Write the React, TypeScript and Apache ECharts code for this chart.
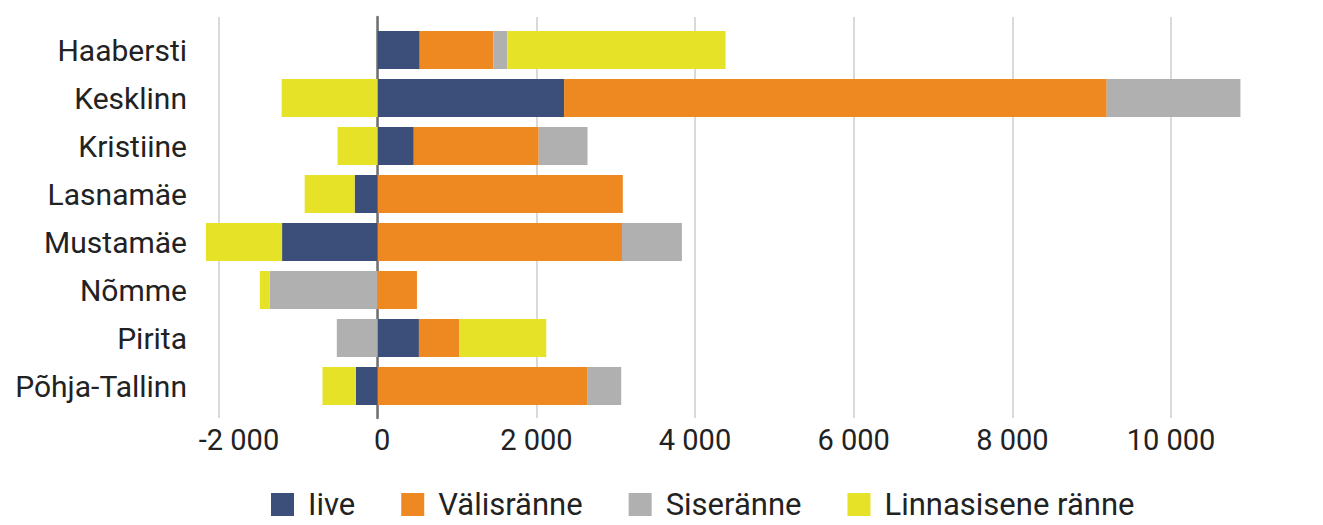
import React, { useEffect, useRef } from "react";
import * as echarts from "echarts";

const categories = ["Haabersti", "Kesklinn", "Kristiine", "Lasnamäe", "Mustamäe", "Nõmme", "Pirita", "Põhja-Tallinn"];
const iive = [530, 2350, 455, -290, -1205, 0, 520, -275];
const valisranne = [930, 6840, 1575, 3090, 3080, 495, 505, 2640];
const siseranne = [175, 1685, 615, 0, 755, -1360, -515, 430];
const linnasisene = [2750, -1210, -505, -630, -960, -125, 1100, -420];
const seriesNames = ["Iive", "Välisränne", "Siseränne", "Linnasisene ränne"];
const colors = ["#3c4e7a", "#ee8821", "#b0b0b0", "#e6e227"];
const xMin = -2000;
const xMax = 10000;
const xStep = 2000;

const fmtNum = (v: number) => {
  const s = Math.abs(v).toString().replace(/\B(?=(\d{3})+(?!\d))/g, " ");
  return (v < 0 ? "-" : "") + s;
};

export default function App() {
  const ref = useRef<HTMLDivElement>(null);
  useEffect(() => {
    if (!ref.current) return;
    const chart = echarts.init(ref.current, undefined, { renderer: "svg" });
    const font = "Roboto";
    const left = 219;
    const right = 152;
    const data = [iive, valisranne, siseranne, linnasisene];
    const lbl = { fontFamily: font, fontSize: 29, color: "#222222" };
    chart.setOption({
      animation: false,
      backgroundColor: "#ffffff",
      grid: [
        { left, right, top: 17, height: 401 },
        { left, right, top: 26, height: 384 },
      ],
      xAxis: [
        {
          type: "value",
          gridIndex: 0,
          min: xMin,
          max: xMax,
          interval: xStep,
          axisLine: { show: false },
          axisTick: { show: false },
          splitLine: { show: true, lineStyle: { color: "#d9d9d9", width: 2 } },
          axisLabel: {
            formatter: (v: number) => {
              const t = fmtNum(v);
              if (v < 0) return "{n|" + t + "}";
              if (v === 0) return "{z|" + t + "}";
              return "{p|" + t + "}";
            },
            ...lbl,
            margin: 7,
            rich: {
              n: { ...lbl, padding: [0, 0, 0, 40] },
              z: { ...lbl, padding: [0, 0, 0, 9] },
              p: { ...lbl },
            },
          },
        },
        {
          type: "value",
          gridIndex: 1,
          min: xMin,
          max: xMax,
          interval: xStep,
          show: false,
          splitLine: { show: false },
        },
      ],
      yAxis: [
        {
          type: "value",
          gridIndex: 0,
          min: 0,
          max: 1,
          axisLabel: { show: false },
          axisTick: { show: false },
          splitLine: { show: false },
          axisLine: { show: true, onZero: true, lineStyle: { color: "#707070", width: 2.5 } },
        },
        {
          type: "category",
          gridIndex: 1,
          data: categories,
          inverse: true,
          axisLine: { show: false },
          axisTick: { show: false },
          splitLine: { show: false },
          axisLabel: {
            fontFamily: font,
            fontSize: 30,
            color: "#222222",
            margin: 32,
          },
        },
      ],
      legend: {
        left: 266,
        top: 484,
        itemWidth: 23,
        itemHeight: 23,
        itemGap: 46,
        icon: "rect",
        textStyle: {
          fontFamily: font,
          fontSize: 31,
          lineHeight: 30,
          color: "#222222",
          padding: [0, 0, 0, 9],
        },
        data: seriesNames,
      },
      series: seriesNames.map((name, i) => ({
        name,
        type: "bar",
        stack: "total",
        xAxisIndex: 1,
        yAxisIndex: 1,
        barWidth: 38,
        clip: false,
        itemStyle: { color: colors[i] },
        data: data[i],
      })),
    });
    return () => chart.dispose();
  }, []);
  return <div ref={ref} style={{ position: "absolute", left: 0, top: 0, width: 1323, height: 525 }} />;
}
